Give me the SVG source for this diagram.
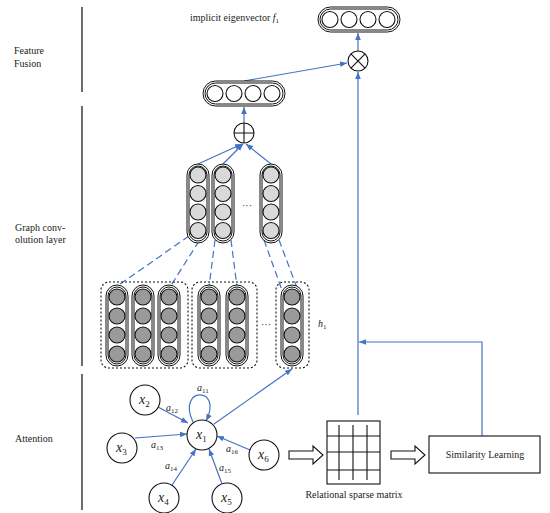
<svg xmlns="http://www.w3.org/2000/svg" width="550" height="513" viewBox="0 0 550 513">
<style>
text{font-family:"Liberation Serif","Times New Roman",serif;fill:#222}
.lbl{font-size:10px}
.div{stroke:#6b6b6b;stroke-width:2;fill:none}
.pill{fill:#fff;stroke:#111;stroke-width:1}
.pin{fill:none;stroke:#111;stroke-width:1}
.cw{fill:#fff;stroke:#111;stroke-width:1.1}
.cl{fill:#d9d9d9;stroke:#111;stroke-width:1.1}
.cd{fill:#9a9a9a;stroke:#111;stroke-width:1.1}
.box{fill:none;stroke:#111;stroke-width:1.1;stroke-dasharray:2 2}
.con{stroke:#4472c4;stroke-width:1.2;fill:none}
.dash{stroke:#4472c4;stroke-width:1.2;fill:none;stroke-dasharray:7 4}
.node{fill:#fff;stroke:#111;stroke-width:1.1}
.blk{stroke:#111;stroke-width:1.1;fill:none}
.nx{font-size:14px;font-style:italic}
.sub{font-style:normal}
.aw{font-size:10px;font-style:italic}
</style>
<defs>
<marker id="arr" viewBox="0 0 10 10" refX="10" refY="5" markerWidth="7" markerHeight="7" markerUnits="userSpaceOnUse" orient="auto"><path d="M0,1 L10,5 L0,9 z" fill="#4472c4"/></marker>
<g id="vpD"><rect class="pill" x="-11" y="0" width="22" height="81" rx="11"/><rect class="pin" x="-9" y="2" width="18" height="77" rx="9"/><circle class="cd" cx="0" cy="12" r="8"/><circle class="cd" cx="0" cy="31" r="8"/><circle class="cd" cx="0" cy="50" r="8"/><circle class="cd" cx="0" cy="69" r="8"/></g>
<g id="vpL"><rect class="pill" x="-11" y="0" width="22" height="79" rx="11"/><rect class="pin" x="-9" y="2" width="18" height="75" rx="9"/><circle class="cl" cx="0" cy="11" r="8"/><circle class="cl" cx="0" cy="29.5" r="8"/><circle class="cl" cx="0" cy="48" r="8"/><circle class="cl" cx="0" cy="66.5" r="8"/></g>
<g id="hp"><rect class="pill" x="0" y="0" width="82" height="25" rx="12.5"/><rect class="pin" x="2" y="2" width="78" height="21" rx="10.5"/><circle class="cw" cx="12" cy="12.5" r="8"/><circle class="cw" cx="31" cy="12.5" r="8"/><circle class="cw" cx="50" cy="12.5" r="8"/><circle class="cw" cx="69" cy="12.5" r="8"/></g>
</defs>
<rect width="550" height="513" fill="#fff"/>

<g id="dividers">
<line class="div" x1="82" y1="7" x2="82" y2="92"/>
<line class="div" x1="82" y1="106" x2="82" y2="366"/>
<line class="div" x1="82" y1="374" x2="82" y2="510"/>
</g>
<g id="section-labels">
<text class="lbl" x="14" y="54">Feature</text>
<text class="lbl" x="14" y="67">Fusion</text>
<text class="lbl" x="15" y="231">Graph conv-</text>
<text class="lbl" x="15" y="243">olution layer</text>
<text class="lbl" x="15" y="442">Attention</text>
</g>

<g id="connectors">
<line class="con" x1="358" y1="51" x2="358" y2="33" marker-end="url(#arr)"/>
<line class="con" x1="244" y1="81" x2="347" y2="63" marker-end="url(#arr)"/>
<line class="con" x1="358" y1="415" x2="358" y2="72" marker-end="url(#arr)"/>
<polyline class="con" points="482,436 482,342 359,342" marker-end="url(#arr)"/>
<line class="con" x1="244" y1="123" x2="244" y2="107" marker-end="url(#arr)"/>
<line class="con" x1="198" y1="164" x2="242" y2="144" marker-end="url(#arr)"/>
<line class="con" x1="223" y1="164" x2="243" y2="144" marker-end="url(#arr)"/>
<line class="con" x1="271" y1="164" x2="246" y2="144" marker-end="url(#arr)"/>
<line class="dash" x1="189" y1="236" x2="116" y2="287"/>
<line class="dash" x1="199" y1="241" x2="170" y2="287"/>
<line class="dash" x1="215" y1="240" x2="209" y2="287"/>
<line class="dash" x1="231" y1="240" x2="237" y2="287"/>
<line class="dash" x1="264" y1="240" x2="283" y2="293"/>
<line class="dash" x1="279" y1="240" x2="299" y2="293"/>
<line class="con" x1="214" y1="424" x2="292" y2="369" marker-end="url(#arr)"/>
<line class="con" x1="158" y1="407" x2="188" y2="423" marker-end="url(#arr)"/>
<line class="con" x1="135" y1="438" x2="187" y2="434" marker-end="url(#arr)"/>
<line class="con" x1="172" y1="485" x2="196" y2="449" marker-end="url(#arr)"/>
<line class="con" x1="222" y1="484" x2="209" y2="449" marker-end="url(#arr)"/>
<line class="con" x1="250" y1="450" x2="217" y2="436" marker-end="url(#arr)"/>
<path class="con" d="M193,422 C176,386 224,386 206,421" marker-end="url(#arr)"/>
<path class="blk" d="M289,451 L313,451 L313,446 L323,455 L313,464 L313,459 L289,459 Z" fill="#fff"/>
<path class="blk" d="M391,451 L415,451 L415,446 L425,455 L415,464 L415,459 L391,459 Z" fill="#fff"/>
</g>

<g id="output-vector">
<use href="#hp" x="318" y="7"/>
<text class="lbl" x="190" y="21">implicit eigenvector <tspan font-style="italic">f</tspan><tspan font-size="7" dy="2">1</tspan></text>
</g>
<g id="multiply">
<circle class="node" cx="358" cy="61" r="10"/>
<path class="blk" d="M350.9,53.9 L365.1,68.1 M365.1,53.9 L350.9,68.1"/>
</g>
<g id="fused-vector"><use href="#hp" x="203" y="81"/></g>
<g id="add">
<circle class="node" cx="244" cy="133" r="10"/>
<path class="blk" d="M234,133 L254,133 M244,123 L244,143"/>
</g>
<g id="gcn-outputs">
<use href="#vpL" x="198" y="164"/>
<use href="#vpL" x="223" y="164"/>
<use href="#vpL" x="271" y="164"/>
<text class="lbl" x="247" y="209" text-anchor="middle">···</text>
</g>
<g id="group1">
<rect class="box" x="101" y="282" width="87" height="86" rx="8"/>
<use href="#vpD" x="117" y="285"/>
<use href="#vpD" x="143" y="285"/>
<use href="#vpD" x="169" y="285"/>
</g>
<g id="group2">
<rect class="box" x="192" y="282" width="65" height="86" rx="8"/>
<use href="#vpD" x="209" y="285"/>
<use href="#vpD" x="237" y="285"/>
</g>
<text class="lbl" x="266" y="328" text-anchor="middle">···</text>
<g id="group3">
<rect class="box" x="276" y="282" width="33" height="86" rx="8"/>
<use href="#vpD" x="292" y="285"/>
</g>
<text class="lbl" x="318" y="327"><tspan font-style="italic">h</tspan><tspan font-size="7" dy="2">1</tspan></text>

<g id="node-x1"><circle class="node" cx="202" cy="435" r="15"/><text class="nx" x="196" y="439">x<tspan class="sub" font-size="9" dy="3">1</tspan></text></g>
<g id="node-x2"><circle class="node" cx="145" cy="400" r="15"/><text class="nx" x="139" y="404">x<tspan class="sub" font-size="9" dy="3">2</tspan></text></g>
<g id="node-x3"><circle class="node" cx="122" cy="448" r="15"/><text class="nx" x="116" y="452">x<tspan class="sub" font-size="9" dy="3">3</tspan></text></g>
<g id="node-x4"><circle class="node" cx="164" cy="498" r="15"/><text class="nx" x="158" y="502">x<tspan class="sub" font-size="9" dy="3">4</tspan></text></g>
<g id="node-x5"><circle class="node" cx="227" cy="498" r="15"/><text class="nx" x="221" y="502">x<tspan class="sub" font-size="9" dy="3">5</tspan></text></g>
<g id="node-x6"><circle class="node" cx="264" cy="455" r="15"/><text class="nx" x="258" y="459">x<tspan class="sub" font-size="9" dy="3">6</tspan></text></g>
<g id="edge-labels">
<text class="aw" x="197" y="391">a<tspan class="sub" font-size="7" dy="2">11</tspan></text>
<text class="aw" x="166" y="411">a<tspan class="sub" font-size="7" dy="2">12</tspan></text>
<text class="aw" x="151" y="448">a<tspan class="sub" font-size="7" dy="2">13</tspan></text>
<text class="aw" x="165" y="469">a<tspan class="sub" font-size="7" dy="2">14</tspan></text>
<text class="aw" x="219" y="471">a<tspan class="sub" font-size="7" dy="2">15</tspan></text>
<text class="aw" x="226" y="452">a<tspan class="sub" font-size="7" dy="2">16</tspan></text>
</g>

<g id="sparse-matrix">
<rect class="blk" x="327" y="421" width="53" height="63"/>
<path class="blk" d="M339,425 V480 M353,425 V480 M367,425 V480 M327,436 H380 M327,452 H380 M327,470 H380"/>
<text class="lbl" x="354" y="498" text-anchor="middle">Relational sparse matrix</text>
</g>
<g id="similarity-learning">
<rect class="blk" x="429" y="436" width="111" height="37"/>
<text class="lbl" x="485" y="458" text-anchor="middle">Similarity Learning</text>
</g>
</svg>
